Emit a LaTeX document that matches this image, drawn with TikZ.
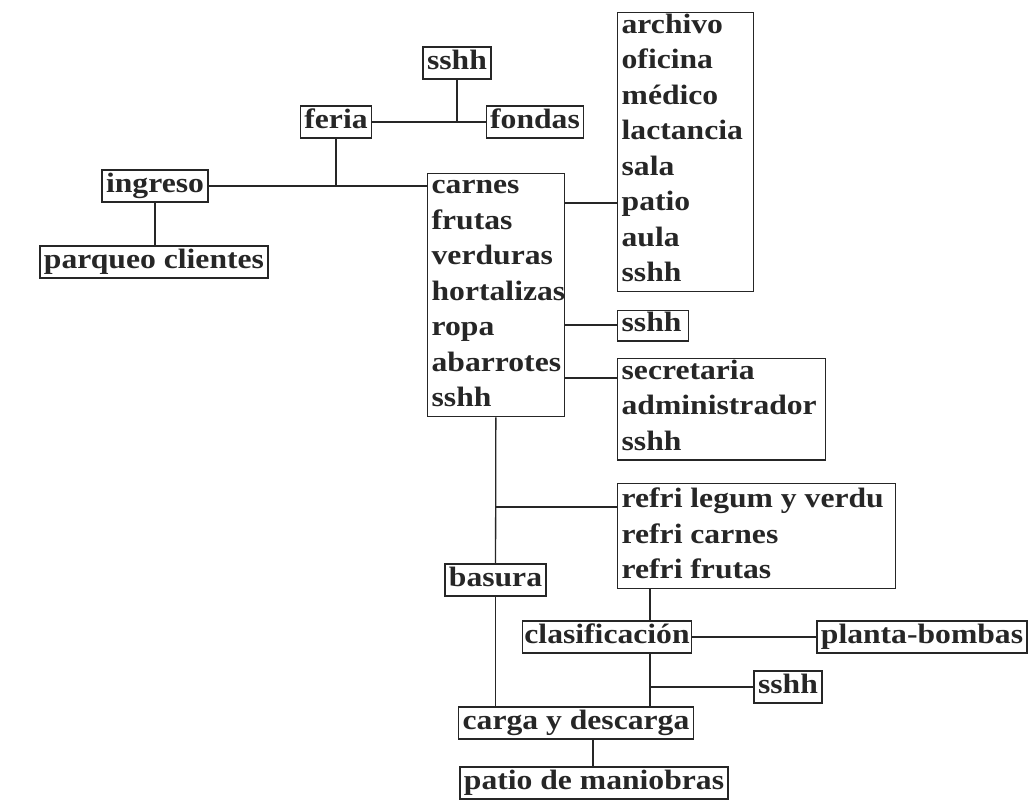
\documentclass[tikz,border=0pt]{standalone}
\usepackage{fontspec}
\setmainfont{Liberation Serif}[FakeStretch=1.13]
\usetikzlibrary{positioning}

\tikzset{
  frame/.style={draw, inner xsep=4pt},
  box/.style={frame, inner ysep=3pt, text height=19pt, text depth=7pt},
  lst/.style={frame, inner ysep=1pt, align=flush left, anchor=north west,
    execute at begin node={\rule{0pt}{19pt}},
    execute at end node={\rule[-9pt]{0pt}{9pt}}},
}

\begin{document}
\begin{tikzpicture}[x=1pt, y=-1pt, line width=1.3pt, color=black!85,
    font=\bfseries\fontsize{28}{35.5}\selectfont]
  \useasboundingbox (0,0) rectangle (1033,809);

  \node (sshhA) [box] at (457,63) {sshh};
  \node (feria) [box] at (336,122) {feria};
  \node (fondas) [box] at (535,122) {fondas};
  \node (ingreso) [box] at (155,186) {ingreso};
  \node (parqueo) [box] at (154,262) {parqueo clientes};
  \node (mercado) [lst, text width=129pt] at (427,173)
    {carnes\\frutas\\verduras\\hortalizas\\ropa\\abarrotes\\sshh};
  \node (oficinas) [lst, text width=128pt] at (617,12)
    {archivo\\oficina\\médico\\lactancia\\sala\\patio\\aula\\sshh};
  \node (sshhB) [lst, text width=63pt] at (617,310) {sshh};
  \node (admin) [lst, text width=200pt] at (617,358)
    {secretaria\\administrador\\sshh};
  \node (refri) [lst, text width=270pt] at (617,483)
    {\rule{0pt}{23pt}refri legum y verdu\\refri carnes\\refri frutas};
  \node (basura) [box] at (495.5,580) {basura};
  \node (clasif) [box, inner xsep=2pt] at (607,637) {clasificación};
  \node (bombas) [box] at (922,637) {planta-bombas};
  \node (sshhC) [box] at (788,687) {sshh};
  \node (carga) [box] at (576,723) {carga y descarga};
  \node (patio) [box] at (594,783) {patio de maniobras};

  \coordinate (j1) at (564,203);
  \coordinate (j2) at (564,325);
  \coordinate (j3) at (564,378);
  \coordinate (j4) at (495.5,507);
  \coordinate (r1) at (650,0);
  \coordinate (c1) at (593,0);

  \draw (feria) -- (fondas);
  \draw (sshhA) -- (sshhA |- feria);
  \draw (ingreso.east) -- (ingreso.east -| mercado.west);
  \draw (feria) -- (feria |- ingreso.east);
  \draw (ingreso.south) -- (ingreso.south |- parqueo.north);
  \draw (j1) -- (j1 -| oficinas.west);
  \draw (j2) -- (j2 -| sshhB.west);
  \draw (j3) -- (j3 -| admin.west);
  \draw (j4) -- (j4 -| refri.west);
  \draw (mercado) -- (basura);
  \draw (basura) -- (basura |- carga.north);
  \draw (r1 |- refri.south) -- (r1 |- clasif.north);
  \draw (r1 |- clasif.south) -- (r1 |- carga.north);
  \draw (r1 |- sshhC.west) -- (sshhC.west);
  \draw (clasif) -- (bombas);
  \draw (c1 |- carga.south) -- (c1 |- patio.north);
\end{tikzpicture}
\end{document}
